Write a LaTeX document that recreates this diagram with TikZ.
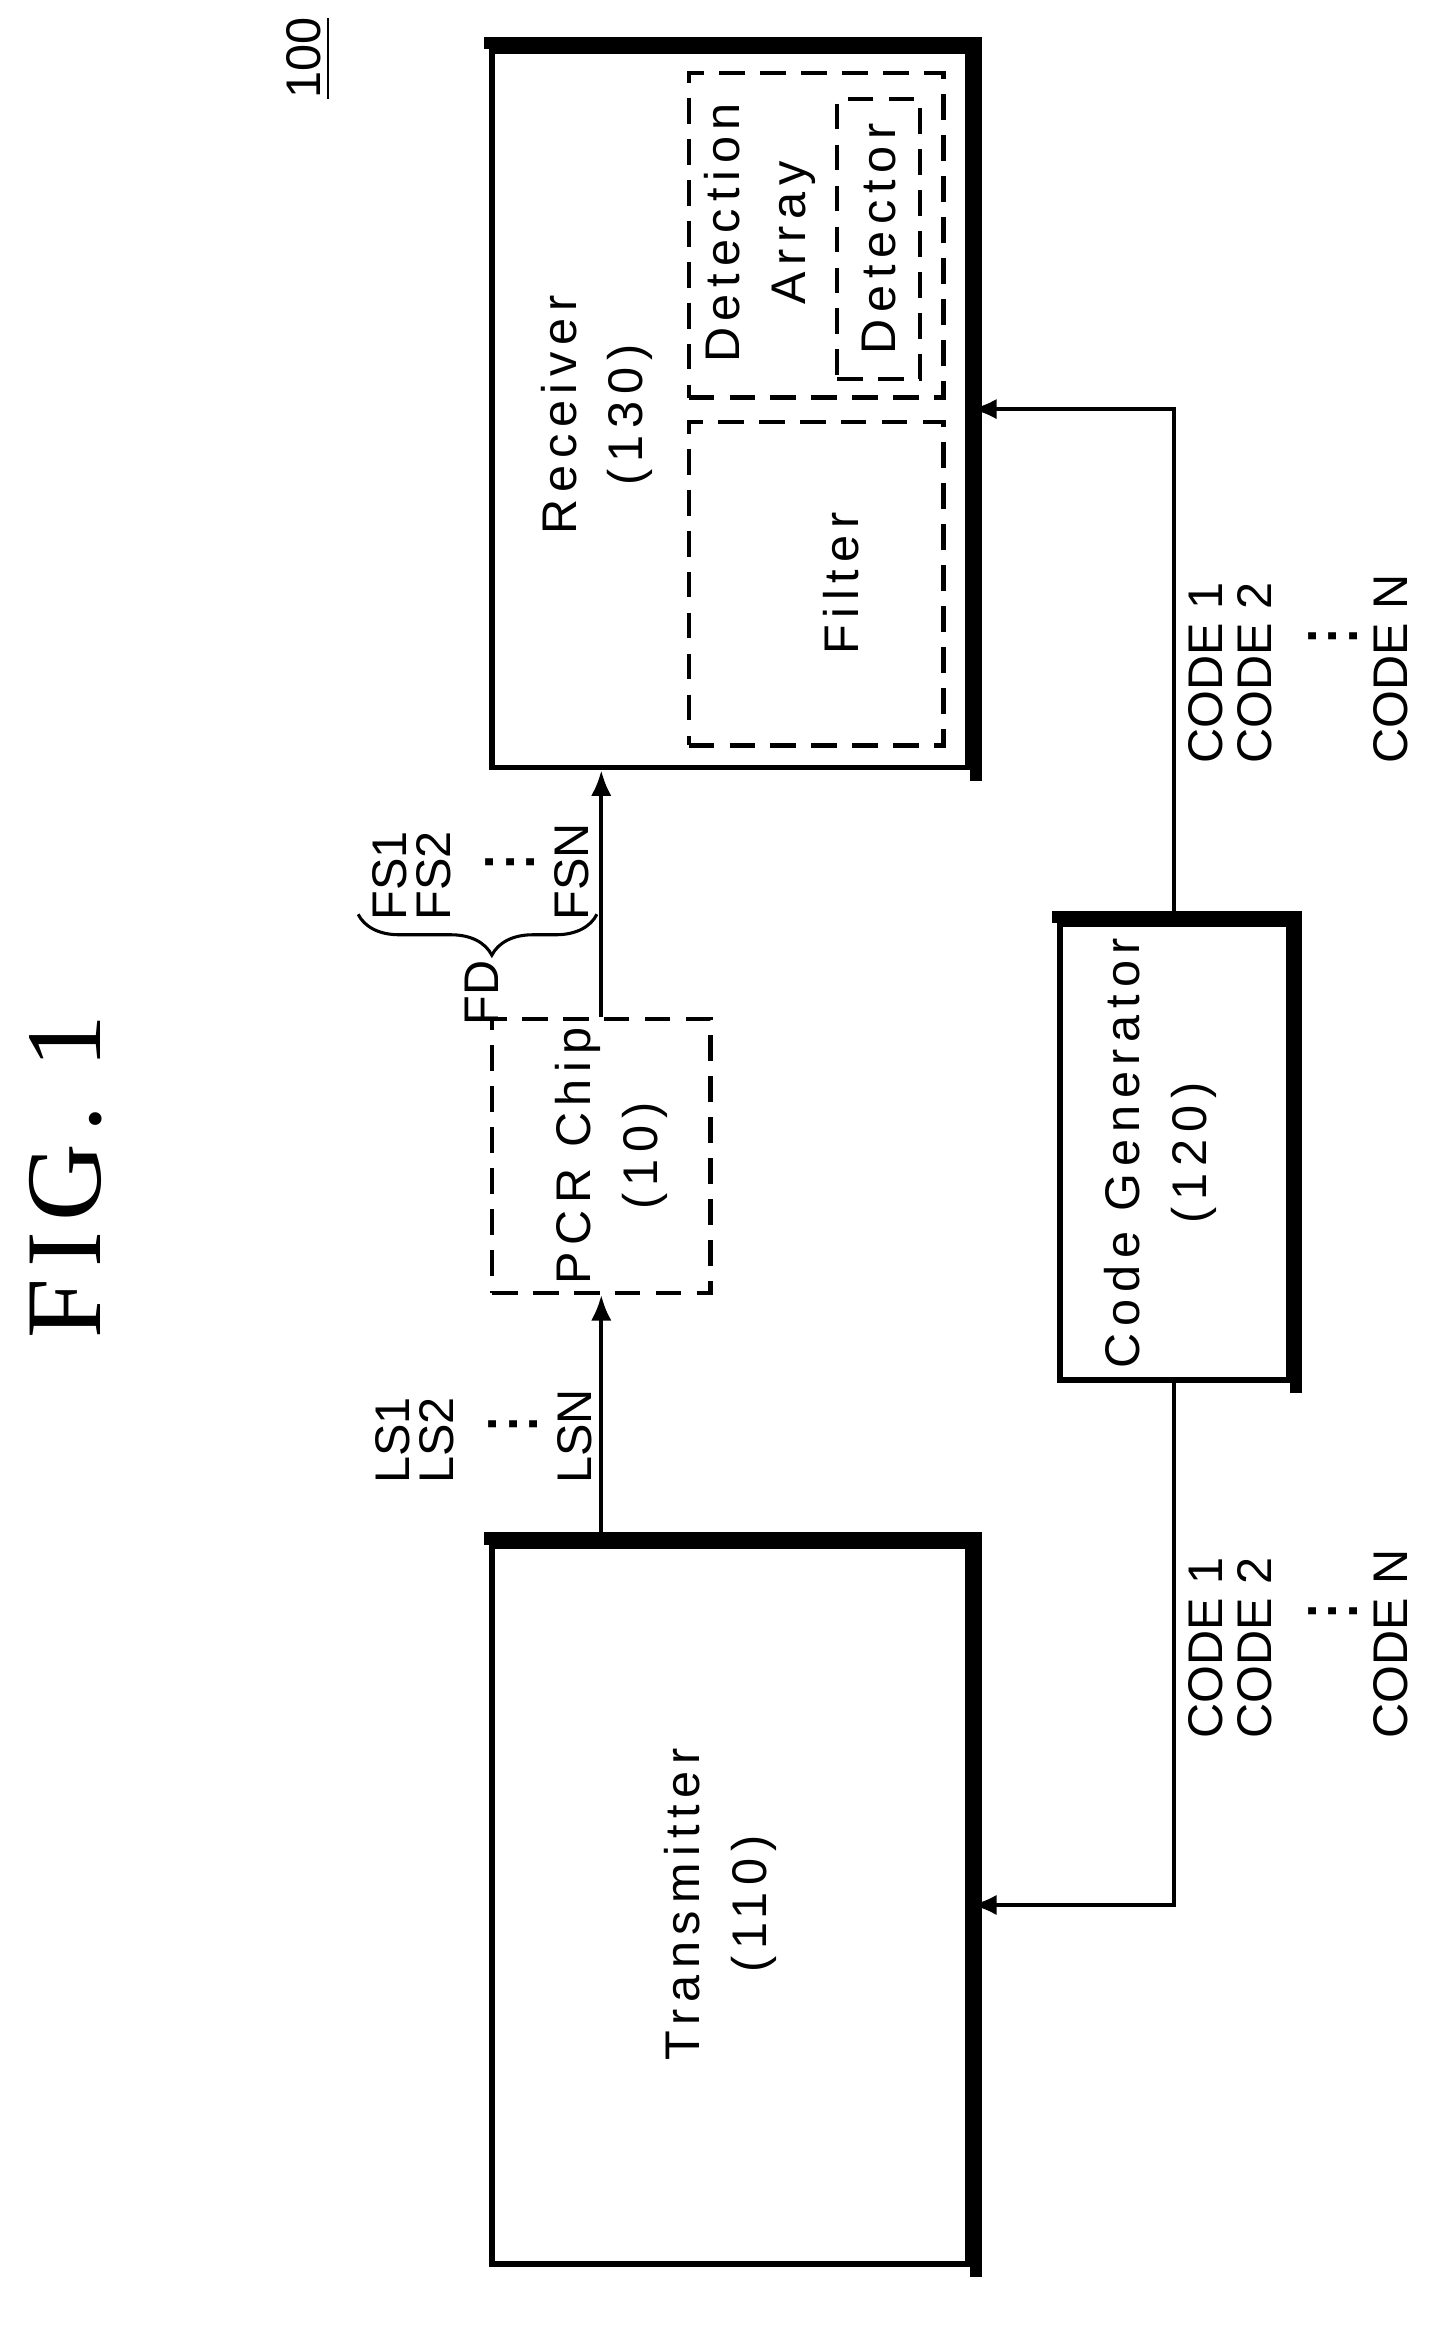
\documentclass[tikz,border=0pt]{standalone}
\usepackage{fontspec}
\setmainfont{Liberation Sans}
\newfontfamily\figfont{Liberation Serif}
\usetikzlibrary{decorations.pathreplacing, arrows.meta}

\newcommand{\heavyedge}[1]{%
  \draw[line width=2.4pt] ([xshift=-1pt,yshift=0.9pt]#1.north west) -- ([xshift=0.9pt,yshift=0.9pt]#1.north east) -- ([xshift=0.9pt,yshift=-2pt]#1.south east);}

\begin{document}
\begin{tikzpicture}[x=0.01cm, y=-0.01cm,
      decoration=brace,
      box/.style={draw, line width=1.1pt, inner sep=0pt},
      dbox/.style={draw, line width=0.8pt, dash pattern=on 5pt off 3pt, inner sep=0pt},
      txt/.style={rotate=90, align=center, font=\fontsize{9.5}{13}\selectfont\addfontfeature{LetterSpace=14}},
      lbl/.style={rotate=90, anchor=west, inner sep=0pt, font=\fontsize{9.5}{11}\selectfont},
      dots/.style={rotate=90, font=\Large},
      sig/.style={line width=0.8pt, -{Latex[length=5pt,width=4pt]}}]
      \useasboundingbox (0,0) rectangle (1000,1597);
      % blocks
      \node[box, minimum width=3.27cm, minimum height=4.92cm] (rx) at (501.5,281) {};
      \node[dbox, minimum width=1.75cm, minimum height=2.23cm] (array) at (560.5,161.5) {};
      \node[dbox, minimum width=0.57cm, minimum height=1.92cm] (det) at (603.5,164) {};
      \node[dbox, minimum width=1.75cm, minimum height=2.22cm] (filter) at (560.5,401) {};
      \node[dbox, minimum width=1.5cm, minimum height=1.88cm] (pcr) at (413,794) {};
      \node[box, minimum width=3.27cm, minimum height=4.93cm] (tx) at (501.5,1308.5) {};
      \node[box, minimum width=1.57cm, minimum height=3.13cm] (cg) at (806.5,791.5) {};
      \heavyedge{rx}
      \heavyedge{tx}
      \heavyedge{cg}
      % texts
      \node[txt] (rxt) at (410,285) {Receiver\\(130)};
      \node[txt] (arrayt) at (522,160) {Detection\\Array};
      \node[txt] (dett) at (604,164) {Detector};
      \node[txt] (filtert) at (578,401) {Filter};
      \node[txt] (pcrt) at (420,794) {PCR Chip\\(10)};
      \node[txt] (txt) at (495,1308) {Transmitter\\(110)};
      \node[txt] (cgt) at (797,792) {Code Generator\\(120)};
      \node[rotate=90, font=\figfont\fontsize{21}{24}\selectfont\addfontfeature{LetterSpace=10}] (fig) at (45,808) {FIG. 1};
      \node[rotate=90, font=\fontsize{9.5}{11}\selectfont] (ref) at (212,40) {\underline{100}};
      % connectors
      \draw[sig] (tx.north -| pcr.south) -- (pcr.south);
      \draw[sig] (pcr.north) -- (pcr.north |- rx.south);
      \draw[sig] (cg.north) |- (rx.east);
      \draw[sig] (cg.south) |- (tx.east);
      % signal labels
      \node[lbl] (ls1) at (270,1020) {LS1};
      \node[lbl] (ls2) at (300,1020) {LS2};
      \node[dots] (lsd) at (342,978) {$\vdots$};
      \node[lbl] (lsn) at (395,1020) {LSN};
      \node[lbl] (fs1) at (268,633) {FS1};
      \node[lbl] (fs2) at (298,633) {FS2};
      \node[dots] (fsd) at (340,592) {$\vdots$};
      \node[lbl] (fsn) at (393,633) {FSN};
      \draw[decorate, line width=0.6pt, decoration={amplitude=8pt, aspect=0.44}] (410,628) -- (246,628);
      \node[lbl] (fd) at (331,705) {FD};
      \foreach \y/\n in {525/a, 1195/b} {
        \node[lbl] (c1\n) at (828,\y) {CODE 1};
        \node[lbl] (c2\n) at (862,\y) {CODE 2};
        \node[dots] (cd\n) at (905,\y-88) {$\vdots$};
        \node[lbl] (cn\n) at (955,\y) {CODE N};
      }
    \end{tikzpicture}
\end{document}
